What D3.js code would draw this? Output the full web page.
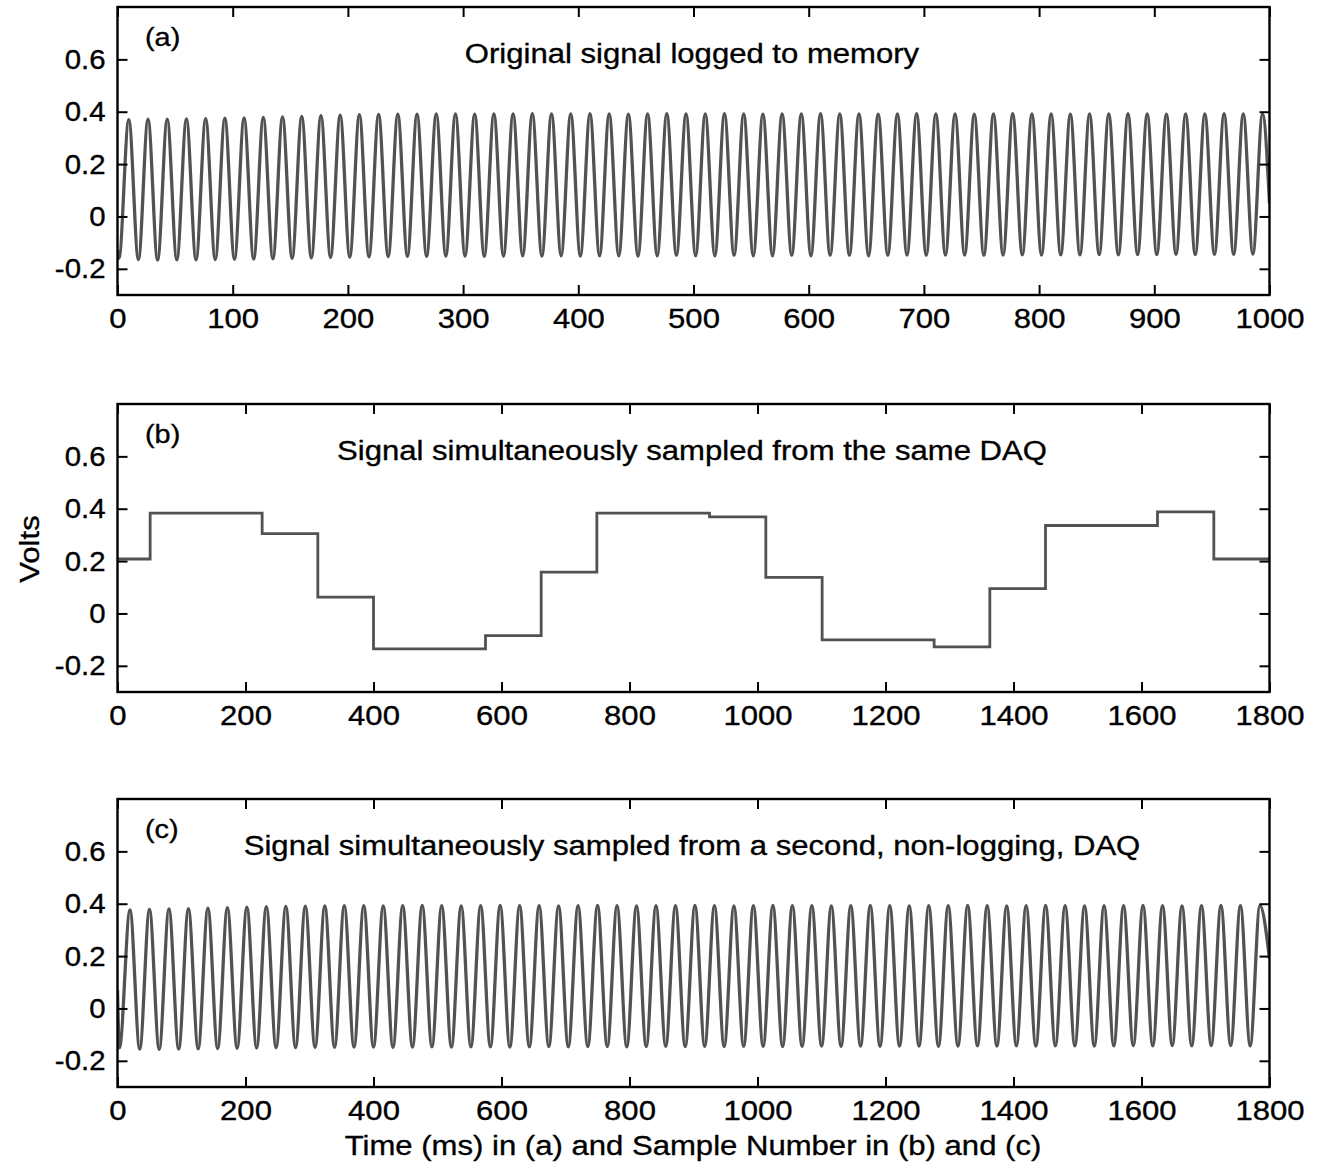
<!DOCTYPE html>
<html>
<head>
<meta charset="utf-8">
<script src="https://cdn.jsdelivr.net/npm/d3@7"></script>
<style>
  html, body { margin: 0; padding: 0; background: #fff; }
  svg text { font-family: "Liberation Sans", Arial, Helvetica, sans-serif; fill: #000; }
</style>
</head>
<body>
<svg id="chart" width="1323" height="1166"></svg>
<script>
// ---- data -------------------------------------------------------------

// Shared y axis (Volts)
const yTickValues = [-0.2, 0, 0.2, 0.4, 0.6];
const yTickLabels = ["-0.2", "0", "0.2", "0.4", "0.6"];

// (a) original signal logged to memory, time in ms
const xTicksA = [0, 100, 200, 300, 400, 500, 600, 700, 800, 900, 1000];
const firstPeakA = 9.8;      // ms
const periodA = 16.68;       // ms per cycle
const leadA = [[0, -0.13], [1.2, -0.16]];
const tailA = [[1000, 0.05]];
const peaksA = [
  0.370, 0.372, 0.372, 0.373, 0.374, 0.375, 0.376, 0.378, 0.380, 0.382,
  0.385, 0.387, 0.389, 0.390, 0.391, 0.391, 0.392, 0.392, 0.391, 0.392,
  0.392, 0.393, 0.392, 0.392, 0.393, 0.392, 0.391, 0.392, 0.393, 0.392,
  0.392, 0.393, 0.392, 0.391, 0.392, 0.392, 0.393, 0.392, 0.392, 0.391,
  0.392, 0.393, 0.392, 0.392, 0.391, 0.392, 0.393, 0.392, 0.392, 0.391,
  0.392, 0.392, 0.393, 0.392, 0.391, 0.392, 0.392, 0.393, 0.392, 0.392
];
const troughsA = [
  -0.165, -0.167, -0.166, -0.166, -0.165, -0.164, -0.163, -0.162, -0.160, -0.158,
  -0.156, -0.155, -0.154, -0.153, -0.152, -0.152, -0.151, -0.151, -0.152, -0.151,
  -0.150, -0.151, -0.150, -0.151, -0.150, -0.150, -0.151, -0.150, -0.149, -0.150,
  -0.150, -0.149, -0.150, -0.150, -0.149, -0.150, -0.149, -0.149, -0.150, -0.149,
  -0.148, -0.149, -0.148, -0.148, -0.149, -0.148, -0.147, -0.148, -0.147, -0.147,
  -0.146, -0.147, -0.146, -0.146, -0.145, -0.146, -0.145, -0.145, -0.144
];

// (b) held samples from the same DAQ: [start sample, volts]
const xTicksBC = [0, 200, 400, 600, 800, 1000, 1200, 1400, 1600, 1800];
const stepStartsB = [0, 51, 226, 313, 400, 575, 662, 749, 925, 1013, 1101, 1276, 1363, 1450, 1625, 1713, 1800];
const stepValuesB = [0.208, 0.383, 0.305, 0.062, -0.135, -0.085, 0.158, 0.383, 0.369, 0.138, -0.101, -0.128, 0.095, 0.336, 0.388, 0.208, 0.208];

// (c) second, non-logging DAQ, sample number
const firstPeakC = 19.5;     // samples
const periodC = 30.44;       // samples per cycle
const leadC = [[0, 0.07], [3, -0.15]];
const tailC = [[1800, 0.19]];
const peaksC = [
  0.376, 0.378, 0.380, 0.381, 0.383, 0.385, 0.387, 0.389, 0.390, 0.391,
  0.392, 0.393, 0.393, 0.392, 0.393, 0.394, 0.393, 0.392, 0.393, 0.394,
  0.393, 0.393, 0.392, 0.393, 0.394, 0.393, 0.392, 0.393, 0.393, 0.394,
  0.393, 0.392, 0.393, 0.394, 0.393, 0.393, 0.392, 0.393, 0.394, 0.393,
  0.392, 0.393, 0.393, 0.394, 0.393, 0.392, 0.393, 0.394, 0.393, 0.392,
  0.393, 0.393, 0.394, 0.393, 0.392, 0.393, 0.394, 0.393, 0.393
];
const troughsC = [
  -0.155, -0.156, -0.155, -0.154, -0.153, -0.152, -0.151, -0.150, -0.150, -0.149,
  -0.149, -0.148, -0.148, -0.149, -0.148, -0.147, -0.148, -0.147, -0.147, -0.148,
  -0.147, -0.146, -0.147, -0.146, -0.146, -0.147, -0.146, -0.145, -0.146, -0.145,
  -0.146, -0.145, -0.145, -0.146, -0.145, -0.144, -0.145, -0.144, -0.145, -0.144,
  -0.144, -0.145, -0.144, -0.143, -0.144, -0.143, -0.144, -0.143, -0.143, -0.144,
  -0.143, -0.142, -0.143, -0.142, -0.143, -0.142, -0.142, -0.143
];

const panelTags = ["(a)", "(b)", "(c)"];
const panelTitles = [
  "Original signal logged to memory",
  "Signal simultaneously sampled from the same DAQ",
  "Signal simultaneously sampled from a second, non-logging, DAQ"
];
const yLabel = "Volts";
const xLabel = "Time (ms) in (a) and Sample Number in (b) and (c)";

// ---- helpers ---------------------------------------------------------

// Alternate peak / trough extrema into one ordered list of [x, volts]
function extrema(first, period, peaks, troughs, lead, tail) {
  const pts = lead.slice();
  peaks.forEach((p, i) => {
    pts.push([first + i * period, p]);
    if (i < troughs.length) pts.push([first + (i + 0.5) * period, troughs[i]]);
  });
  return pts.concat(tail);
}

const seriesA = extrema(firstPeakA, periodA, peaksA, troughsA, leadA, tailA);
const seriesB = stepStartsB.map((s, i) => [s, stepValuesB[i]]);
const seriesC = extrema(firstPeakC, periodC, peaksC, troughsC, leadC, tailC);

// ---- layout ----------------------------------------------------------

const svg = d3.select("#chart");
const left = 117.5, right = 1269.5, panelH = 288;
const FONT = 28;
const WIDEN = 1.11;           // horizontal glyph stretch of the figure text
const LINE_COLOR = "#525252";

// place a text at (x, y) with the wide glyph proportions
function wideText(sel, x, y, rotate) {
  return sel.attr("x", 0).attr("y", 0)
    .attr("transform", `translate(${x},${y})` + (rotate ? ` rotate(${rotate})` : "") + ` scale(${WIDEN},1)`)
    .attr("stroke", "#000").attr("stroke-width", 0.35);
}

const panels = [
  { top: 7,   xDomain: [0, 1000], xTicks: xTicksA,  data: seriesA, curve: d3.curveMonotoneX, width: 3.3 },
  { top: 404, xDomain: [0, 1800], xTicks: xTicksBC, data: seriesB, curve: d3.curveStepAfter, width: 2.8 },
  { top: 799, xDomain: [0, 1800], xTicks: xTicksBC, data: seriesC, curve: d3.curveMonotoneX, width: 3.3 }
];

panels.forEach((p, i) => {
  const x = d3.scaleLinear().domain(p.xDomain).range([left, right]);
  const y = d3.scaleLinear().domain([-0.3, 0.8]).range([p.top + panelH, p.top]);
  const g = svg.append("g");

  const clipId = "clip" + i;
  svg.append("clipPath").attr("id", clipId)
    .append("rect").attr("x", left).attr("y", p.top)
    .attr("width", right - left).attr("height", panelH);

  // signal trace
  g.append("path")
    .datum(p.data)
    .attr("clip-path", `url(#${clipId})`)
    .attr("fill", "none")
    .attr("stroke", LINE_COLOR)
    .attr("stroke-width", p.width)
    .attr("stroke-linejoin", "miter")
    .attr("d", d3.line().x(d => x(d[0])).y(d => y(d[1])).curve(p.curve));

  // axes with inward ticks on all four sides
  const tick = 10;
  const bottom = g.append("g").attr("transform", `translate(0,${p.top + panelH})`)
    .call(d3.axisBottom(x).tickValues(p.xTicks).tickFormat(d3.format("d"))
      .tickSizeInner(-tick).tickSizeOuter(0).tickPadding(13));
  const top = g.append("g").attr("transform", `translate(0,${p.top})`)
    .call(d3.axisTop(x).tickValues(p.xTicks).tickFormat("")
      .tickSizeInner(-tick).tickSizeOuter(0));
  const leftAx = g.append("g").attr("transform", `translate(${left},0)`)
    .call(d3.axisLeft(y).tickValues(yTickValues)
      .tickFormat((d, k) => yTickLabels[k])
      .tickSizeInner(-tick).tickSizeOuter(0).tickPadding(12));
  const rightAx = g.append("g").attr("transform", `translate(${right},0)`)
    .call(d3.axisRight(y).tickValues(yTickValues).tickFormat("")
      .tickSizeInner(-tick).tickSizeOuter(0));

  [bottom, top, leftAx, rightAx].forEach(ax => {
    ax.select(".domain").remove();
    ax.selectAll(".tick line").attr("stroke", "#000").attr("stroke-width", 2);
    ax.selectAll("text").attr("font-size", FONT).attr("fill", "#000")
      .attr("stroke", "#000").attr("stroke-width", 0.35)
      .style("font-family", '"Liberation Sans", Arial, sans-serif');
  });
  bottom.selectAll(".tick text").attr("transform", `scale(${WIDEN},1)`);
  leftAx.selectAll(".tick text")
    .attr("transform", function () {
      const tx = +d3.select(this).attr("x");
      return `translate(${tx},0) scale(${WIDEN - 0.06},1)`;
    })
    .attr("x", 0);

  // frame
  g.append("rect")
    .attr("x", left).attr("y", p.top)
    .attr("width", right - left).attr("height", panelH)
    .attr("fill", "none").attr("stroke", "#000").attr("stroke-width", 2.4);

  // panel tag and title
  wideText(g.append("text"), 145, p.top + 39)
    .attr("font-size", 26)
    .text(panelTags[i]);
  wideText(g.append("text"), 692, p.top + 56)
    .attr("text-anchor", "middle")
    .attr("font-size", FONT)
    .text(panelTitles[i]);
});

// axis titles
wideText(svg.append("text"), 39, 549, -90)
  .attr("text-anchor", "middle")
  .attr("font-size", FONT)
  .text(yLabel);

wideText(svg.append("text"), 693, 1155)
  .attr("text-anchor", "middle")
  .attr("font-size", FONT)
  .text(xLabel);
</script>
</body>
</html>
